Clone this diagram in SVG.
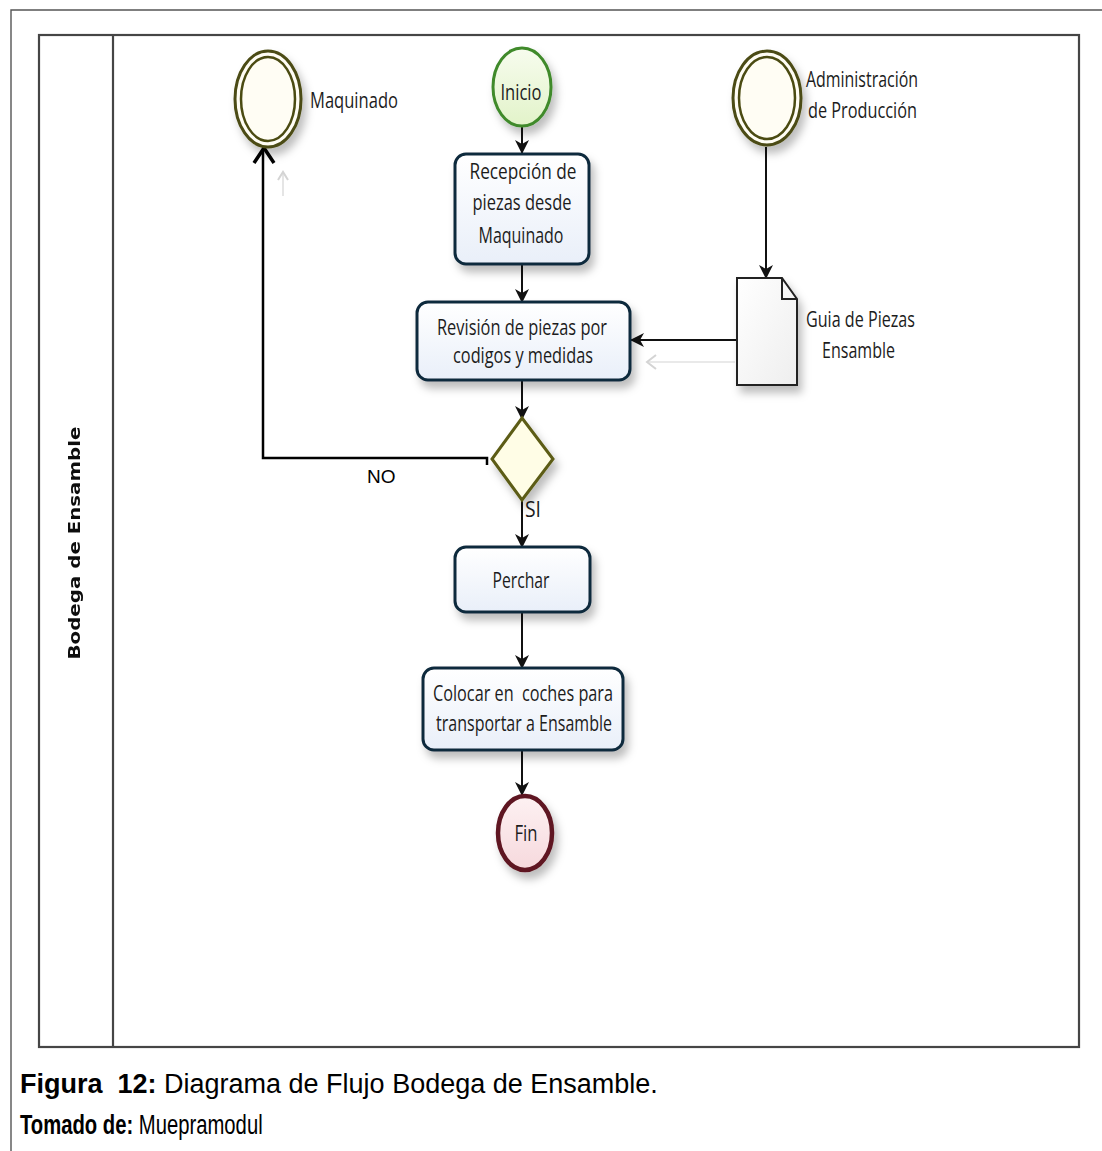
<svg xmlns="http://www.w3.org/2000/svg" width="1102" height="1151" viewBox="0 0 1102 1151">
  <defs>
    <linearGradient id="taskFill" x1="0" y1="0" x2="0" y2="1">
      <stop offset="0" stop-color="#ffffff"/>
      <stop offset="1" stop-color="#e9eff9"/>
    </linearGradient>
    <linearGradient id="startFill" x1="0" y1="0" x2="0" y2="1">
      <stop offset="0" stop-color="#f7fcee"/>
      <stop offset="1" stop-color="#e2f3c9"/>
    </linearGradient>
    <linearGradient id="endFill" x1="0" y1="0" x2="0" y2="1">
      <stop offset="0" stop-color="#fdf1f2"/>
      <stop offset="1" stop-color="#f6d9dd"/>
    </linearGradient>
    <linearGradient id="docFill" x1="0" y1="0" x2="1" y2="1">
      <stop offset="0" stop-color="#ffffff"/>
      <stop offset="1" stop-color="#eeeeee"/>
    </linearGradient>
    <filter id="shadow" x="-20%" y="-20%" width="150%" height="160%">
      <feDropShadow dx="4" dy="7" stdDeviation="4" flood-color="#000000" flood-opacity="0.26"/>
    </filter>
    <filter id="soft" x="-5%" y="-5%" width="110%" height="110%">
      <feGaussianBlur stdDeviation="0.5"/>
    </filter>
    <marker id="arrow" viewBox="0 0 14 14" refX="13" refY="7" markerWidth="14" markerHeight="14" markerUnits="userSpaceOnUse" orient="auto">
      <path d="M0,0 L14,7 L0,14 L4,7 z" fill="#111"/>
    </marker>
    <marker id="ghost" viewBox="0 0 12 12" refX="10" refY="6" markerWidth="12" markerHeight="12" markerUnits="userSpaceOnUse" orient="auto">
      <path d="M2,1 L10,6 L2,11" fill="none" stroke="#d4d4d4" stroke-width="2"/>
    </marker>
  </defs>
  <style>
    .label { font-family: "Open Sans", "Noto Sans", "DejaVu Sans", sans-serif; font-size: 21px; fill: #1c1c1c; }
    .mid { text-anchor: middle; }
    .task { fill: url(#taskFill); stroke: #10293c; stroke-width: 3; filter: url(#shadow); }
    .ring { fill: #fffdf4; stroke: #4b4b12; stroke-width: 3; }
    .ringIn { fill: none; stroke: #4b4b12; stroke-width: 2.5; }
    .flow { fill: none; stroke: #111; stroke-width: 2; }
    .frame { fill: none; stroke: #444; stroke-width: 2.2; }
    .caption { font-family: "Liberation Sans", Arial, sans-serif; font-size: 27px; fill: #000; }
  </style>

  <rect width="1102" height="1151" fill="#ffffff"/>

  <!-- page frame -->
  <g id="page-frame">
    <path d="M11,1151 L11,10 L1102,10" fill="none" stroke="#555" stroke-width="1.4"/>
  </g>

  <!-- pool with single lane -->
  <g id="pool" filter="url(#soft)">
    <rect class="frame" x="39" y="35" width="1040" height="1012"/>
    <line class="frame" x1="113" y1="35" x2="113" y2="1047"/>
    <text transform="translate(80,543) rotate(-90)" text-anchor="middle" font-family="'DejaVu Sans', Verdana, sans-serif" font-weight="bold" font-size="16" fill="#111" textLength="233" lengthAdjust="spacingAndGlyphs">Bodega de Ensamble</text>
  </g>

  <!-- connectors -->
  <g id="connectors">
    <line class="flow" x1="522" y1="126" x2="522" y2="153" marker-end="url(#arrow)"/>
    <line class="flow" x1="522" y1="265" x2="522" y2="302" marker-end="url(#arrow)"/>
    <line class="flow" x1="522" y1="381" x2="522" y2="419" marker-end="url(#arrow)"/>
    <line class="flow" x1="522" y1="500" x2="522" y2="547" marker-end="url(#arrow)"/>
    <line class="flow" x1="522" y1="613" x2="522" y2="668" marker-end="url(#arrow)"/>
    <line class="flow" x1="522" y1="751" x2="522" y2="795" marker-end="url(#arrow)"/>
    <line class="flow" x1="766" y1="147" x2="766" y2="278" marker-end="url(#arrow)"/>
    <line class="flow" x1="737" y1="340" x2="631" y2="340" marker-end="url(#arrow)"/>
    <!-- rejected parts go back to Maquinado -->
    <path d="M487,465 L487,458 L263,458 L263,150" fill="none" stroke="#000" stroke-width="2.5"/>
    <path d="M254,163 L264,148 L274,163" fill="none" stroke="#000" stroke-width="3.5"/>
    <text x="367" y="483" font-family="'Liberation Sans', Arial, sans-serif" font-size="19" fill="#000">NO</text>
    <text x="525" y="517" class="label" font-size="18" textLength="16" lengthAdjust="spacingAndGlyphs">SI</text>
    <!-- faint back-flow traces -->
    <line x1="283" y1="196" x2="283" y2="172" stroke="#dcdcdc" stroke-width="1.5" marker-end="url(#ghost)"/>
    <line x1="735" y1="362" x2="648" y2="362" stroke="#e2e2e2" stroke-width="1.5"/>
    <path d="M656,355 L647,362 L656,369" fill="none" stroke="#d4d4d4" stroke-width="2"/>
  </g>

  <!-- events -->
  <g id="maquinado">
    <ellipse cx="268" cy="99" rx="33" ry="48" class="ring" filter="url(#shadow)"/>
    <ellipse cx="268" cy="99" rx="27" ry="42" class="ringIn"/>
    <text x="310" y="108" class="label" textLength="88" lengthAdjust="spacingAndGlyphs">Maquinado</text>
  </g>

  <g id="inicio">
    <ellipse cx="522" cy="87" rx="29" ry="39" fill="url(#startFill)" stroke="#3f8a2c" stroke-width="3" filter="url(#shadow)"/>
    <text x="521" y="100" class="label mid" font-size="22" textLength="41" lengthAdjust="spacingAndGlyphs">Inicio</text>
  </g>

  <g id="administracion">
    <ellipse cx="767" cy="98" rx="34" ry="47" class="ring" filter="url(#shadow)"/>
    <ellipse cx="767" cy="98" rx="28" ry="41" class="ringIn"/>
    <text x="806" y="87" class="label" textLength="112" lengthAdjust="spacingAndGlyphs">Administración</text>
    <text x="808" y="118" class="label" textLength="109" lengthAdjust="spacingAndGlyphs">de Producción</text>
  </g>

  <g id="fin">
    <ellipse cx="525" cy="833" rx="27" ry="37" fill="url(#endFill)" stroke="#5e1620" stroke-width="4.5" filter="url(#shadow)"/>
    <text x="526" y="841" class="label mid" textLength="23" lengthAdjust="spacingAndGlyphs">Fin</text>
  </g>

  <!-- tasks -->
  <g id="recepcion">
    <rect x="455" y="154" width="134" height="110" rx="11" class="task"/>
    <text x="523" y="179" class="label mid" textLength="107" lengthAdjust="spacingAndGlyphs">Recepción de</text>
    <text x="522" y="210" class="label mid" textLength="99" lengthAdjust="spacingAndGlyphs">piezas desde</text>
    <text x="521" y="243" class="label mid" textLength="85" lengthAdjust="spacingAndGlyphs">Maquinado</text>
  </g>

  <g id="revision">
    <rect x="417" y="302" width="213" height="78" rx="11" class="task"/>
    <text x="522" y="335" class="label mid" textLength="170" lengthAdjust="spacingAndGlyphs">Revisión de piezas por</text>
    <text x="523" y="363" class="label mid" textLength="140" lengthAdjust="spacingAndGlyphs">codigos y medidas</text>
  </g>

  <g id="guia">
    <path d="M737,278 L782,278 L797,299 L797,385 L737,385 Z" fill="url(#docFill)" stroke="#222" stroke-width="2" filter="url(#shadow)"/>
    <path d="M782,278 L782,299 L797,299" fill="none" stroke="#222" stroke-width="2"/>
    <text x="806" y="327" class="label" textLength="109" lengthAdjust="spacingAndGlyphs">Guia de Piezas</text>
    <text x="822" y="358" class="label" textLength="73" lengthAdjust="spacingAndGlyphs">Ensamble</text>
  </g>

  <g id="decision">
    <path d="M522,418 L553,459 L522,500 L492,459 Z" fill="#fffde6" stroke="#5c5c14" stroke-width="3" filter="url(#shadow)"/>
  </g>

  <g id="perchar">
    <rect x="455" y="547" width="135" height="65" rx="11" class="task"/>
    <text x="521" y="588" class="label mid" textLength="57" lengthAdjust="spacingAndGlyphs">Perchar</text>
  </g>

  <g id="colocar">
    <rect x="423" y="668" width="200" height="82" rx="11" class="task"/>
    <text x="523" y="701" class="label mid" xml:space="preserve" textLength="180" lengthAdjust="spacingAndGlyphs">Colocar en  coches para</text>
    <text x="524" y="731" class="label mid" textLength="176" lengthAdjust="spacingAndGlyphs">transportar a Ensamble</text>
  </g>

  <!-- caption -->
  <g id="caption">
    <text x="20" y="1093" class="caption" xml:space="preserve"><tspan font-weight="bold">Figura  12:</tspan> Diagrama de Flujo Bodega de Ensamble.</text>
    <text class="caption" transform="translate(20,1134) scale(0.75,1)"><tspan font-weight="bold">Tomado de:</tspan> Muepramodul</text>
  </g>
</svg>
